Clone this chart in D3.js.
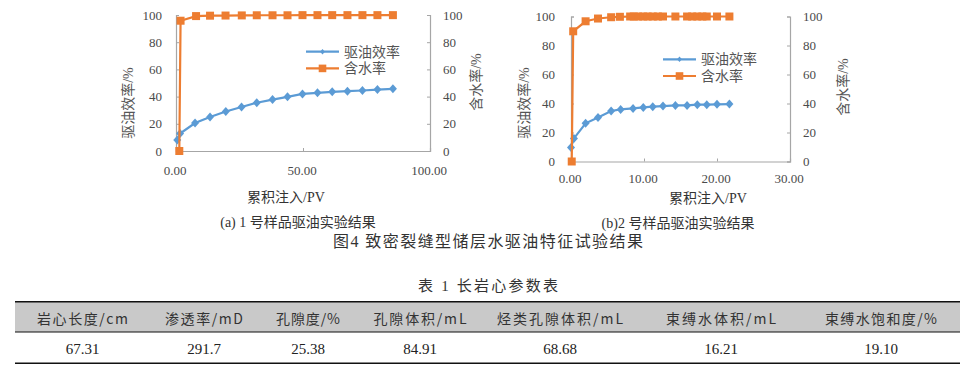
<!DOCTYPE html>
<html><head><meta charset="utf-8">
<script src="https://cdn.jsdelivr.net/npm/d3@7"></script>
<style>
html,body{margin:0;padding:0;background:#fff;}
svg{display:block;}
</style></head>
<body>
<svg id="chart" width="971" height="373"></svg>
<script>
// ---------- data ----------
const yTicks = [0, 20, 40, 60, 80, 100];
const xTicksA = [0, 50, 100];
const xTicksB = [0, 10, 20, 30];

// (a) sample 1
const effXA = [0.5, 1.6, 7.5, 13.4, 19.6, 25.8, 31.8, 38.0, 43.9, 49.8, 55.7, 61.5, 67.5, 73.4, 79.3, 85.4];
const effYA = [8.0, 12.8, 20.6, 25.0, 29.0, 32.4, 35.5, 37.8, 39.8, 42.0, 42.8, 43.5, 44.0, 44.5, 45.2, 45.7];
const wcXA  = [1.3, 1.8, 7.9, 13.4, 19.5, 25.9, 31.8, 38.0, 43.9, 49.8, 55.7, 61.5, 67.5, 73.4, 79.3, 85.4];
const wcYA  = [0, 95.8, 99.2, 99.5, 99.6, 99.7, 99.8, 99.8, 99.8, 99.9, 99.9, 99.9, 99.9, 99.9, 99.9, 99.9];

// (b) sample 2
const effXB = [0.0, 0.4, 2.0, 3.7, 5.5, 6.8, 8.5, 9.9, 11.2, 12.6, 14.3, 15.9, 17.3, 18.6, 20.0, 21.7];
const effYB = [9.7, 15.9, 26.3, 30.4, 34.8, 35.9, 36.6, 37.3, 37.8, 38.2, 38.7, 38.7, 39.2, 39.2, 39.4, 39.6];
const wcXB  = [0.1, 0.3, 2.0, 3.7, 5.5, 6.7, 8.1, 8.6, 9.2, 9.9, 10.5, 11.2, 11.9, 12.6, 14.3, 15.9, 16.6, 17.3, 18.0, 18.6, 20.0, 21.7];
const wcYB  = [0, 89.8, 96.7, 98.6, 99.5, 99.8, 100, 100, 100, 100, 100, 100, 100, 100, 100, 100, 100, 100, 100, 100, 100, 100];

const seriesNames = ["驱油效率", "含水率"];
const yTitleLeft = "驱油效率/%";
const yTitleRight = "含水率/%";
const xTitle = "累积注入/PV";
const captionA = "(a) 1 号样品驱油实验结果";
const captionB = "(b)2 号样品驱油实验结果";
const figTitle = "图4  致密裂缝型储层水驱油特征试验结果";

const tableTitle = "表 1  长岩心参数表";
const tableHeaders = ["岩心长度/cm", "渗透率/mD", "孔隙度/%", "孔隙体积/mL", "烃类孔隙体积/mL", "束缚水体积/mL", "束缚水饱和度/%"];
const tableValues = ["67.31", "291.7", "25.38", "84.91", "68.68", "16.21", "19.10"];

// ---------- style ----------
const BLUE = "#5B9BD5", ORANGE = "#ED7D31", AXIS = "#A6A6A6", TXT = "#4a4a4a", CTXT = "#555";
const SERIF = "'Liberation Serif','Times New Roman','Noto Sans CJK SC',serif";
const CJK = "'Liberation Serif','Noto Sans CJK SC',sans-serif";

const svg = d3.select("#chart");
svg.append("rect").attr("width", 971).attr("height", 373).attr("fill", "#fff");

const diamond = "M0,-4.5L4,0L0,4.5L-4,0Z";
const square = "M-4,-4H4V4H-4Z";

function panel(cfg) {
  const x = d3.scaleLinear().domain(cfg.xDomain).range([cfg.x0, cfg.x1]);
  const y = d3.scaleLinear().domain([0, 100]).range([cfg.y0, cfg.y1]);
  const g = svg.append("g");

  // axes
  const axL = d3.axisRight(y).tickValues(yTicks).tickSize(3).tickFormat("");
  const axR = d3.axisLeft(y).tickValues(yTicks).tickSize(3).tickFormat("");
  const axB = d3.axisTop(x).tickValues(cfg.xTicks).tickSize(3).tickFormat("");
  [[axL, `translate(${cfg.x0},0)`], [axR, `translate(${cfg.x1},0)`], [axB, `translate(0,${cfg.y0})`]].forEach(([ax, tr]) => {
    const a = g.append("g").attr("transform", tr).call(ax);
    a.select(".domain").attr("stroke", AXIS).attr("stroke-width", 1.2);
    a.selectAll(".tick line").attr("stroke", AXIS);
  });

  // tick labels
  g.selectAll(".yl").data(yTicks).join("text")
    .attr("x", cfg.x0 - cfg.lGap).attr("y", d => y(d)).attr("dy", "0.35em")
    .attr("text-anchor", "end").attr("font-family", SERIF).attr("font-size", 13).attr("fill", TXT)
    .text(d => d);
  g.selectAll(".yr").data(yTicks).join("text")
    .attr("x", cfg.x1 + 13).attr("y", d => y(d)).attr("dy", "0.35em")
    .attr("text-anchor", "start").attr("font-family", SERIF).attr("font-size", 13).attr("fill", TXT)
    .text(d => d);
  g.selectAll(".xl").data(cfg.xTicks).join("text")
    .attr("x", d => x(d) - 1).attr("y", cfg.y0 + cfg.bGap).attr("dy", "0.35em")
    .attr("text-anchor", "middle").attr("font-family", SERIF).attr("font-size", 13).attr("fill", TXT)
    .text(d => d3.format(".2f")(d));

  // axis titles
  g.append("text").attr("transform", `translate(${cfg.ylx},${cfg.yly}) rotate(-90)`)
    .attr("text-anchor", "middle").attr("dy", "0.35em").attr("font-family", CJK).attr("font-size", 14).attr("fill", CTXT)
    .text(yTitleLeft);
  g.append("text").attr("transform", `translate(${cfg.yrx},${cfg.yry}) rotate(-90)`)
    .attr("text-anchor", "middle").attr("dy", "0.35em").attr("font-family", CJK).attr("font-size", 14).attr("fill", CTXT)
    .text(yTitleRight);
  g.append("text").attr("x", cfg.xtx).attr("y", cfg.xty).attr("dy", "0.35em")
    .attr("text-anchor", "middle").attr("font-family", CJK).attr("font-size", 14).attr("fill", "#333")
    .text(xTitle);
  g.append("text").attr("x", cfg.capx).attr("y", cfg.capy).attr("dy", "0.35em")
    .attr("text-anchor", "middle").attr("font-family", CJK).attr("font-size", 14).attr("fill", "#333")
    .text(cfg.caption);

  // series
  const eff = cfg.effX.map((v, i) => [v, cfg.effY[i]]);
  const wc = cfg.wcX.map((v, i) => [v, cfg.wcY[i]]);
  const line = d3.line().x(d => x(d[0])).y(d => y(d[1]));
  g.append("path").datum(eff).attr("d", line).attr("fill", "none").attr("stroke", BLUE).attr("stroke-width", 2.2);
  g.selectAll(".ed").data(eff).join("path").attr("d", diamond)
    .attr("transform", d => `translate(${x(d[0])},${y(d[1])})`).attr("fill", BLUE);
  g.append("path").datum(wc).attr("d", line).attr("fill", "none").attr("stroke", ORANGE).attr("stroke-width", 2.2);
  g.selectAll(".ws").data(wc).join("path").attr("d", square)
    .attr("transform", d => `translate(${x(d[0])},${y(d[1])})`).attr("fill", ORANGE);

  // legend
  const lg = g.append("g");
  [[BLUE, diamond, 0], [ORANGE, square, 1]].forEach(([c, sym, i]) => {
    const ly = cfg.legY + i * 16.7;
    lg.append("line").attr("x1", cfg.legX).attr("x2", cfg.legX + 33).attr("y1", ly).attr("y2", ly)
      .attr("stroke", c).attr("stroke-width", 2.2);
    lg.append("path").attr("d", sym).attr("fill", c)
      .attr("transform", `translate(${cfg.legX + 16.5},${ly}) scale(${i === 0 ? 0.6 : 0.95})`);
    lg.append("text").attr("x", cfg.legX + 38).attr("y", ly).attr("dy", "0.35em")
      .attr("font-family", CJK).attr("font-size", 14).attr("fill", CTXT).text(seriesNames[i]);
  });
}

panel({
  xDomain: [0, 100], x0: 176, x1: 430, y0: 151, y1: 15, xTicks: xTicksA,
  lGap: 14, bGap: 19,
  effX: effXA, effY: effYA, wcX: wcXA, wcY: wcYA,
  ylx: 128, yly: 103, yrx: 476, yry: 82, xtx: 286, xty: 197,
  capx: 298, capy: 222, caption: captionA, legX: 306, legY: 51.7
});
panel({
  xDomain: [0, 30], x0: 571, x1: 790, y0: 161.5, y1: 16.5, xTicks: xTicksB,
  lGap: 16, bGap: 17,
  effX: effXB, effY: effYB, wcX: wcXB, wcY: wcYB,
  ylx: 524, yly: 103, yrx: 843, yry: 87, xtx: 708, xty: 198,
  capx: 678, capy: 223, caption: captionB, legX: 663, legY: 59.3
});

// figure title
svg.append("text").attr("x", 333).attr("y", 241).attr("dy", "0.35em")
  .attr("font-family", CJK).attr("font-size", 16).attr("fill", "#333")
  .attr("textLength", 310).attr("lengthAdjust", "spacing").text(figTitle);

// ---------- table ----------
const colCenters = d3.scaleOrdinal().domain(tableHeaders).range([82.5, 204, 308, 420, 560, 721, 881]);
const headWidths = d3.scaleOrdinal().domain(tableHeaders).range([91, 78, 64, 93, 126, 110, 112]);
svg.append("text").attr("x", 418).attr("y", 286).attr("dy", "0.35em")
  .attr("font-family", CJK).attr("font-size", 15).attr("fill", "#333")
  .attr("textLength", 140).attr("lengthAdjust", "spacing").text(tableTitle);
svg.append("rect").attr("x", 15).attr("y", 302).attr("width", 945).attr("height", 30).attr("fill", "#C9C9C9");
[301.7, 332, 363.3].forEach((ly, i) => {
  svg.append("line").attr("x1", 15).attr("x2", 960).attr("y1", ly).attr("y2", ly)
    .attr("stroke", "#111").attr("stroke-width", i === 1 ? 1.2 : 1.6);
});
svg.selectAll(".th").data(tableHeaders).join("text")
  .attr("x", d => colCenters(d) - headWidths(d) / 2).attr("y", 319.5).attr("dy", "0.35em")
  .attr("font-family", "'Noto Sans CJK SC',sans-serif").attr("font-size", 14).attr("fill", "#333")
  .attr("textLength", d => headWidths(d)).attr("lengthAdjust", "spacing").text(d => d);
svg.selectAll(".td").data(tableValues).join("text")
  .attr("x", (d, i) => colCenters(tableHeaders[i])).attr("y", 348.5).attr("dy", "0.35em")
  .attr("text-anchor", "middle").attr("font-family", SERIF).attr("font-size", 15).attr("fill", "#222")
  .text(d => d);
</script>
</body></html>
